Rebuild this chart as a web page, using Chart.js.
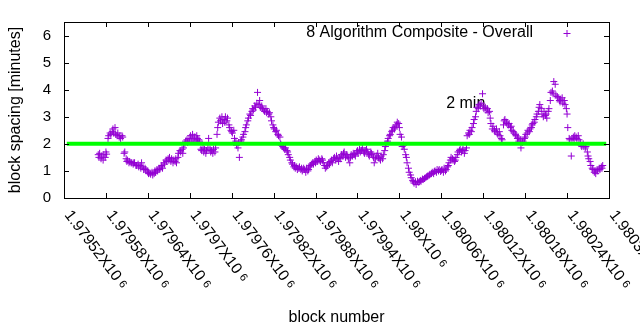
<!DOCTYPE html>
<html>
<head>
<meta charset="utf-8">
<script src="https://cdn.jsdelivr.net/npm/chart.js@4"></script>
<style>
  html, body { margin: 0; padding: 0; background: #fff; }
</style>
</head>
<body>
<canvas id="blockChart" width="640" height="330"></canvas>
<script>
// block heights on the x axis
const blocks = [
  1979569,
  1979570,1979571,1979573,1979574,1979576,1979577,1979579,
  1979580,1979581,1979583,1979584,1979586,1979587,1979589,
  1979590,1979591,1979593,1979594,1979596,1979597,1979599,
  1979600,1979601,1979603,1979604,1979606,1979607,1979609,
  1979610,1979611,1979613,1979614,1979616,1979617,1979619,
  1979620,1979621,1979623,1979624,1979626,1979627,1979629,
  1979630,1979631,1979633,1979634,1979636,1979637,1979639,
  1979640,1979641,1979643,1979644,1979646,1979647,1979649,
  1979650,1979651,1979653,1979654,1979656,1979657,1979659,
  1979660,1979661,1979663,1979664,1979666,1979667,1979669,
  1979670,1979671,1979673,1979674,1979676,1979677,1979679,
  1979680,1979681,1979683,1979684,1979686,1979687,1979689,
  1979690,1979691,1979693,1979694,1979696,1979697,1979699,
  1979700,1979701,1979703,1979704,1979706,1979707,1979709,
  1979710,1979711,1979713,1979714,1979716,1979717,1979719,
  1979720,1979721,1979723,1979724,1979726,1979727,1979729,
  1979730,1979731,1979733,1979734,1979736,1979737,1979739,
  1979740,1979741,1979743,1979744,1979746,1979747,1979749,
  1979750,1979751,1979753,1979754,1979756,1979757,1979759,
  1979760,1979761,1979763,1979764,1979766,1979767,1979769,
  1979770,1979771,1979773,1979774,1979776,1979777,1979779,
  1979780,1979781,1979783,1979784,1979786,1979787,1979789,
  1979790,1979791,1979793,1979794,1979796,1979797,1979799,
  1979800,1979801,1979803,1979804,1979806,1979807,1979809,
  1979810,1979811,1979813,1979814,1979816,1979817,1979819,
  1979820,1979821,1979823,1979824,1979826,1979827,1979829,
  1979830,1979831,1979833,1979834,1979836,1979837,1979839,
  1979840,1979841,1979843,1979844,1979846,1979847,1979849,
  1979850,1979851,1979853,1979854,1979856,1979857,1979859,
  1979860,1979861,1979863,1979864,1979866,1979867,1979869,
  1979870,1979871,1979873,1979874,1979876,1979877,1979879,
  1979880,1979881,1979883,1979884,1979886,1979887,1979889,
  1979890,1979891,1979893,1979894,1979896,1979897,1979899,
  1979900,1979901,1979903,1979904,1979906,1979907,1979909,
  1979910,1979911,1979913,1979914,1979916,1979917,1979919,
  1979920,1979921,1979923,1979924,1979926,1979927,1979929,
  1979930,1979931,1979933,1979934,1979936,1979937,1979939,
  1979940,1979941,1979943,1979944,1979946,1979947,1979949,
  1979950,1979951,1979953,1979954,1979956,1979957,1979959,
  1979960,1979961,1979963,1979964,1979966,1979967,1979969,
  1979970,1979971,1979973,1979974,1979976,1979977,1979979,
  1979980,1979981,1979983,1979984,1979986,1979987,1979989,
  1979990,1979991,1979993,1979994,1979996,1979997,1979999,
  1980000,1980001,1980003,1980004,1980006,1980007,1980009,
  1980010,1980011,1980013,1980014,1980016,1980017,1980019,
  1980020,1980021,1980023,1980024,1980026,1980027,1980029,
  1980030,1980031,1980033,1980034,1980036,1980037,1980039,
  1980040,1980041,1980043,1980044,1980046,1980047,1980049,
  1980050,1980051,1980053,1980054,1980056,1980057,1980059,
  1980060,1980061,1980063,1980064,1980066,1980067,1980069,
  1980070,1980071,1980073,1980074,1980076,1980077,1980079,
  1980080,1980081,1980083,1980084,1980086,1980087,1980089,
  1980090,1980091,1980093,1980094,1980096,1980097,1980099,
  1980100,1980101,1980103,1980104,1980106,1980107,1980109,
  1980110,1980111,1980113,1980114,1980116,1980117,1980119,
  1980120,1980121,1980123,1980124,1980126,1980127,1980129,
  1980130,1980131,1980133,1980134,1980136,1980137,1980139,
  1980140,1980141,1980143,1980144,1980146,1980147,1980149,
  1980150,1980151,1980153,1980154,1980156,1980157,1980159,
  1980160,1980161,1980163,1980164,1980166,1980167,1980169,
  1980170,1980171,1980173,1980174,1980176,1980177,1980179,
  1980180,1980181,1980183,1980184,1980186,1980187,1980189,
  1980190,1980191,1980193,1980194,1980196,1980197,1980199,
  1980200,1980201,1980203,1980204,1980206,1980207,1980209,
  1980210,1980211,1980213,1980214,1980216,1980217,1980219,
  1980220,1980221,1980223,1980224,1980226,1980227,1980229,
  1980230,1980231,1980233,1980234,1980236,1980237,1980239,
  1980240,1980241,1980243,1980244,1980246,1980247,1980249,
  1980250,1980251,1980253,1980254,1980256,1980257,1980259,
  1980260,1980261,1980263,1980264,1980266,1980267,1980269,
  1980270,1980271,1980273,1980274,1980276,1980277,1980279,
  1980280,1980281,1980283,1980284,1980286,1980287,1980289,
  1980290,1980291
];

// block spacing in minutes, one per block above
const spacing = [
  1.6,
  1.5,1.65,1.45,1.55,1.4,1.6,1.5,
  1.7,1.62,2.2,2.3,2.4,2.35,2.45,
  2.55,2.4,2.6,2.35,2.3,2.4,2.25,
  2.3,2.2,2.3,2.25,1.65,1.7,1.45,
  1.35,1.4,1.3,1.35,1.3,1.3,1.25,
  1.3,1.3,1.2,1.2,1.25,1.15,1.2,
  1.1,1.3,1.15,1.05,1.1,1.05,1.0,
  0.95,0.9,0.92,0.88,0.95,0.85,0.9,
  1.0,0.95,1.05,1.0,1.1,1.05,1.15,
  1.2,1.1,1.3,1.25,1.4,1.35,1.45,
  1.4,1.5,1.35,1.45,1.3,1.4,1.35,
  1.45,1.3,1.5,1.65,1.75,1.7,1.8,
  1.65,1.85,2.0,2.1,2.15,2.05,2.2,
  2.1,2.3,2.2,2.35,2.15,2.25,2.1,
  2.3,2.2,2.15,2.1,1.8,1.75,1.85,
  1.7,1.8,1.65,1.75,1.85,2.2,1.8,
  1.7,1.75,1.65,1.8,1.7,1.85,2.35,
  2.6,2.8,2.95,2.85,3.0,2.75,2.9,
  2.8,3.0,2.85,2.95,2.7,2.6,2.5,
  2.45,2.4,2.5,2.2,2.1,1.95,1.85,
  2.05,1.5,2.1,2.15,2.25,2.35,2.45,
  2.6,2.7,2.85,2.95,3.1,3.05,3.2,
  3.3,3.25,3.4,3.35,3.5,3.9,3.45,
  3.6,3.35,3.4,3.3,3.25,3.2,3.3,
  3.15,3.2,3.1,3.15,3.0,2.85,2.7,
  2.6,2.55,2.45,2.5,2.35,2.3,2.25,
  2.0,1.95,1.9,1.85,1.8,1.85,1.75,
  1.7,1.6,1.5,1.4,1.3,1.25,1.15,
  1.2,1.1,1.15,1.05,1.1,1.15,1.05,
  1.1,1.0,1.1,1.05,0.95,1.1,1.0,
  1.05,1.15,1.2,1.25,1.3,1.25,1.35,
  1.3,1.4,1.35,1.45,1.4,1.35,1.45,
  1.4,1.3,1.2,1.1,1.15,1.2,1.3,
  1.25,1.35,1.4,1.3,1.45,1.5,1.4,
  1.55,1.45,1.35,1.5,1.45,1.6,1.55,
  1.65,1.7,1.5,1.6,1.55,1.45,1.3,
  1.5,1.6,1.55,1.65,1.6,1.55,1.7,
  1.75,1.65,1.8,1.7,1.75,1.85,1.7,
  1.65,1.75,1.8,1.7,1.6,1.55,1.7,
  1.65,1.6,1.5,1.3,1.45,1.55,1.65,
  1.5,1.45,1.4,1.55,1.45,1.6,1.75,
  1.9,2.0,2.1,2.2,2.3,2.35,2.45,
  2.5,2.6,2.55,2.65,2.7,2.8,2.75,
  2.6,2.35,2.25,1.9,1.95,1.8,1.6,
  1.5,1.3,1.1,0.95,0.85,0.75,0.65,
  0.6,0.55,0.6,0.5,0.62,0.58,0.6,
  0.65,0.62,0.7,0.68,0.72,0.75,0.78,
  0.8,0.82,0.85,0.88,0.9,0.95,0.9,
  0.98,1.0,0.95,1.05,1.0,1.05,0.98,
  1.02,1.05,0.95,1.1,1.0,1.05,1.15,
  1.2,1.3,1.4,1.5,1.45,1.4,1.35,
  1.4,1.5,1.6,1.7,1.75,1.8,1.7,
  1.75,1.8,1.65,1.75,1.85,2.3,2.4,
  2.35,2.5,2.45,2.6,2.75,2.9,3.0,
  3.2,3.35,3.3,3.45,3.4,3.5,3.85,
  3.4,3.3,3.35,3.25,3.3,3.15,3.2,
  2.95,2.75,2.55,2.65,2.5,2.45,2.55,
  2.4,2.35,2.45,2.3,2.2,2.15,2.7,
  2.85,2.9,2.8,2.75,2.7,2.75,2.6,
  2.65,2.5,2.45,2.4,2.35,2.3,2.2,
  2.25,2.1,2.15,1.85,2.05,2.1,2.2,
  2.25,2.35,2.4,2.5,2.45,2.55,2.6,
  2.7,2.75,2.8,2.9,3.0,3.1,3.2,
  3.35,3.45,3.3,3.1,3.0,3.2,3.05,
  3.1,2.95,3.2,3.3,3.6,3.9,3.95,
  3.85,4.3,4.2,3.8,3.75,3.7,3.6,
  3.55,3.65,3.7,3.5,3.6,3.45,3.3,
  3.1,2.6,2.2,2.15,1.55,2.2,2.25,
  2.15,2.3,2.25,2.2,2.3,2.15,2.05,
  1.95,1.9,2.0,1.9,1.85,1.9,1.7,
  1.55,1.45,1.35,1.2,1.1,1.05,0.95,
  1.0,0.9,1.05,1.0,1.1,1.05,1.15,
  1.1,1.2
];

// the 2 minute target line
const targetX = [1979524, 1980296];
const targetY = [2, 2];

const xTickValues = [1979520, 1979580, 1979640, 1979700, 1979760, 1979820, 1979880,
                     1979940, 1980000, 1980060, 1980120, 1980180, 1980240, 1980300];
const xTickLabels = ['1.97952', '1.97958', '1.97964', '1.9797', '1.97976', '1.97982', '1.97988',
                     '1.97994', '1.98', '1.98006', '1.98012', '1.98018', '1.98024', '1.9803'];
const yTickValues = [0, 1, 2, 3, 4, 5, 6];

const seriesName = '8 Algorithm Composite - Overall';
const targetLabel = '2 min';
const targetLabelPos = [1980067, 3.5];

const FONT = '"Liberation Sans", Arial, sans-serif';
const PURPLE = '#9400d3';

Chart.defaults.font.family = FONT;
Chart.defaults.color = '#000';

// gnuplot look: frame with inward ticks, slanted x labels, key in the corner
const gnuplotBits = {
    id: 'gnuplotBits',
    beforeDatasetsDraw(chart) {
        const { ctx, scales: { x, y } } = chart;
        ctx.save();
        ctx.font = '16px ' + FONT;
        ctx.fillStyle = '#000';
        ctx.textBaseline = 'middle';
        ctx.fillText(targetLabel, x.getPixelForValue(targetLabelPos[0]), y.getPixelForValue(targetLabelPos[1]));
        ctx.restore();
    },
    afterDraw(chart) {
        const { ctx, chartArea: a, scales: { x, y } } = chart;
        ctx.save();
        ctx.strokeStyle = '#000';
        ctx.lineWidth = 1;
        ctx.strokeRect(a.left + 0.5, a.top + 0.5, a.right - a.left, a.bottom - a.top);

        ctx.beginPath();
        xTickValues.forEach(v => {
            const px = Math.round(x.getPixelForValue(v)) + 0.5;
            ctx.moveTo(px, a.bottom); ctx.lineTo(px, a.bottom - 5);
            ctx.moveTo(px, a.top); ctx.lineTo(px, a.top + 5);
        });
        yTickValues.forEach(v => {
            const py = Math.round(y.getPixelForValue(v)) + 0.5;
            ctx.moveTo(a.left, py); ctx.lineTo(a.left + 5, py);
            ctx.moveTo(a.right, py); ctx.lineTo(a.right - 5, py);
        });
        ctx.stroke();

        // slanted tick labels, e.g. 1.97952X10^6
        ctx.fillStyle = '#000';
        xTickValues.forEach((v, i) => {
            const px = x.getPixelForValue(v);
            ctx.save();
            ctx.translate(px, a.bottom + 17);
            ctx.rotate(53 * Math.PI / 180);
            ctx.textAlign = 'left';
            ctx.textBaseline = 'alphabetic';
            ctx.font = '15.5px ' + FONT;
            const main = xTickLabels[i] + 'X10';
            ctx.fillText(main, 0, 0);
            const w = ctx.measureText(main).width;
            ctx.font = '11px ' + FONT;
            ctx.fillText('6', w + 4, -2);
            ctx.restore();
        });

        // key
        ctx.font = '16px ' + FONT;
        ctx.textAlign = 'right';
        ctx.textBaseline = 'middle';
        ctx.fillText(seriesName, 533, 33);
        ctx.strokeStyle = PURPLE;
        ctx.beginPath();
        ctx.moveTo(563.5, 33.5); ctx.lineTo(570.5, 33.5);
        ctx.moveTo(567, 30); ctx.lineTo(567, 37);
        ctx.stroke();
        ctx.restore();
    }
};

const ctx = document.getElementById('blockChart').getContext('2d');
new Chart(ctx, {
    type: 'scatter',
    data: {
        datasets: [
            {
                label: targetLabel,
                type: 'line',
                data: targetX.map((v, i) => ({ x: v, y: targetY[i] })),
                borderColor: '#00ff00',
                borderWidth: 4,
                pointRadius: 0,
                order: 0
            },
            {
                label: seriesName,
                data: blocks.map((b, i) => ({ x: b, y: spacing[i] })),
                pointStyle: 'cross',
                pointRadius: 3.5,
                pointBorderWidth: 1,
                borderColor: PURPLE,
                backgroundColor: PURPLE,
                order: 1
            }
        ]
    },
    options: {
        responsive: false,
        animation: false,
        layout: { padding: { top: 19, right: 31, left: 0, bottom: 0 } },
        plugins: {
            legend: { display: false },
            tooltip: { enabled: false }
        },
        scales: {
            x: {
                type: 'linear',
                min: 1979520,
                max: 1980300,
                grid: { display: false },
                border: { display: false },
                ticks: { display: false, stepSize: 60 },
                title: {
                    display: true,
                    text: 'block number',
                    font: { size: 16 },
                    padding: { top: 0, bottom: 3 }
                },
                afterFit: s => { s.height = 132; }
            },
            y: {
                min: 0,
                max: 6.5,
                grid: { display: false, drawTicks: false },
                border: { display: false },
                afterBuildTicks: s => { s.ticks = yTickValues.map(v => ({ value: v })); },
                ticks: { font: { size: 15 }, padding: 13 },
                title: {
                    display: true,
                    text: 'block spacing [minutes]',
                    font: { size: 16 },
                    padding: { top: 6, bottom: 0 }
                },
                afterFit: s => { s.width = 64; }
            }
        }
    },
    plugins: [gnuplotBits]
});
</script>
</body>
</html>
